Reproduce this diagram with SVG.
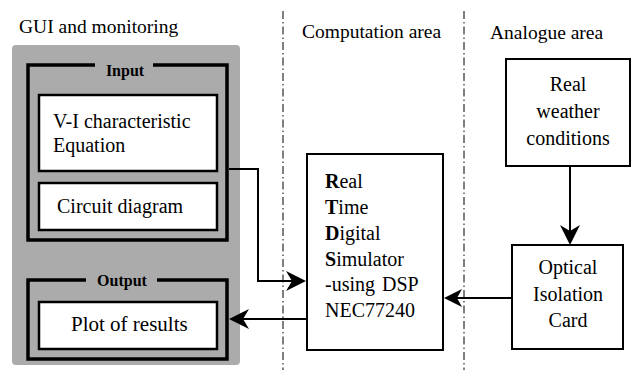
<svg xmlns="http://www.w3.org/2000/svg" width="632" height="370" viewBox="0 0 632 370">
<rect width="632" height="370" fill="#fff"/>

<g id="separators" stroke="#000" stroke-width="1" stroke-dasharray="8 3 1.5 3">
<line x1="283" y1="11" x2="283" y2="370"/>
<line x1="464" y1="11" x2="464" y2="370"/>
</g>

<g id="headers" font-family="Liberation Serif, Times New Roman, serif" font-size="19.5">
<text x="19" y="33">GUI and monitoring</text>
<text x="302" y="38">Computation area</text>
<text x="490" y="39">Analogue area</text>
</g>

<g id="gui-panel">
<rect x="12" y="45" width="228" height="320" rx="4" fill="#ababab"/>
</g>

<g id="input-group">
<path d="M95,65 H28 V240 H227 V65 H153" fill="none" stroke="#000" stroke-width="3.5"/>
<text x="125" y="76" text-anchor="middle" font-family="Liberation Serif, Times New Roman, serif" font-size="16" font-weight="bold">Input</text>
</g>

<g id="vi-equation" font-family="Liberation Serif, Times New Roman, serif" font-size="20">
<rect x="39" y="95" width="178" height="76" fill="#fff" stroke="#000" stroke-width="2.5"/>
<text x="53" y="128">V-I characteristic</text>
<text x="53" y="152">Equation</text>
</g>

<g id="circuit-diagram" font-family="Liberation Serif, Times New Roman, serif" font-size="20">
<rect x="39" y="183" width="178" height="47" fill="#fff" stroke="#000" stroke-width="2.5"/>
<text x="57" y="213">Circuit diagram</text>
</g>

<g id="output-group">
<path d="M86,280 H28 V359 H227 V280 H157" fill="none" stroke="#000" stroke-width="3.5"/>
<text x="122" y="286" text-anchor="middle" font-family="Liberation Serif, Times New Roman, serif" font-size="16" font-weight="bold">Output</text>
</g>

<g id="plot-results" font-family="Liberation Serif, Times New Roman, serif" font-size="21">
<rect x="39" y="302" width="178" height="47" fill="#fff" stroke="#000" stroke-width="2.5"/>
<text x="71" y="331">Plot of results</text>
</g>

<g id="rtds" font-family="Liberation Serif, Times New Roman, serif" font-size="20">
<rect x="307" y="154" width="136" height="196" fill="#fff" stroke="#000" stroke-width="2"/>
<text x="325" y="188"><tspan font-weight="bold">R</tspan>eal</text>
<text x="325" y="214"><tspan font-weight="bold">T</tspan>ime</text>
<text x="325" y="240"><tspan font-weight="bold">D</tspan>igital</text>
<text x="325" y="266"><tspan font-weight="bold">S</tspan>imulator</text>
<text x="325" y="291">-using<tspan x="382">DSP</tspan></text>
<text x="325" y="317">NEC77240</text>
</g>

<g id="weather" font-family="Liberation Serif, Times New Roman, serif" font-size="20" text-anchor="middle">
<rect x="506" y="59" width="124" height="107" fill="#fff" stroke="#000" stroke-width="2"/>
<text x="568" y="91">Real</text>
<text x="568" y="118">weather</text>
<text x="568" y="145">conditions</text>
</g>

<g id="optical" font-family="Liberation Serif, Times New Roman, serif" font-size="20" text-anchor="middle">
<rect x="512" y="245" width="111" height="104" fill="#fff" stroke="#000" stroke-width="2"/>
<text x="568" y="274">Optical</text>
<text x="568" y="301">Isolation</text>
<text x="568" y="327">Card</text>
</g>

<g id="connectors">
<g fill="none" stroke="#000" stroke-width="2">
<path d="M229,169 H258 V281 H292"/>
<path d="M307,319 H243"/>
<path d="M570,166 V231"/>
<path d="M512,298 H457"/>
</g>
<g fill="#000">
<polygon points="306,281 286,271 292,281 286,291"/>
<polygon points="229,319 249,309 243,319 249,329"/>
<polygon points="570,245 560,225 570,231 580,225"/>
<polygon points="444,298 462,289 457,298 462,307"/>
</g>
</g>
</svg>
